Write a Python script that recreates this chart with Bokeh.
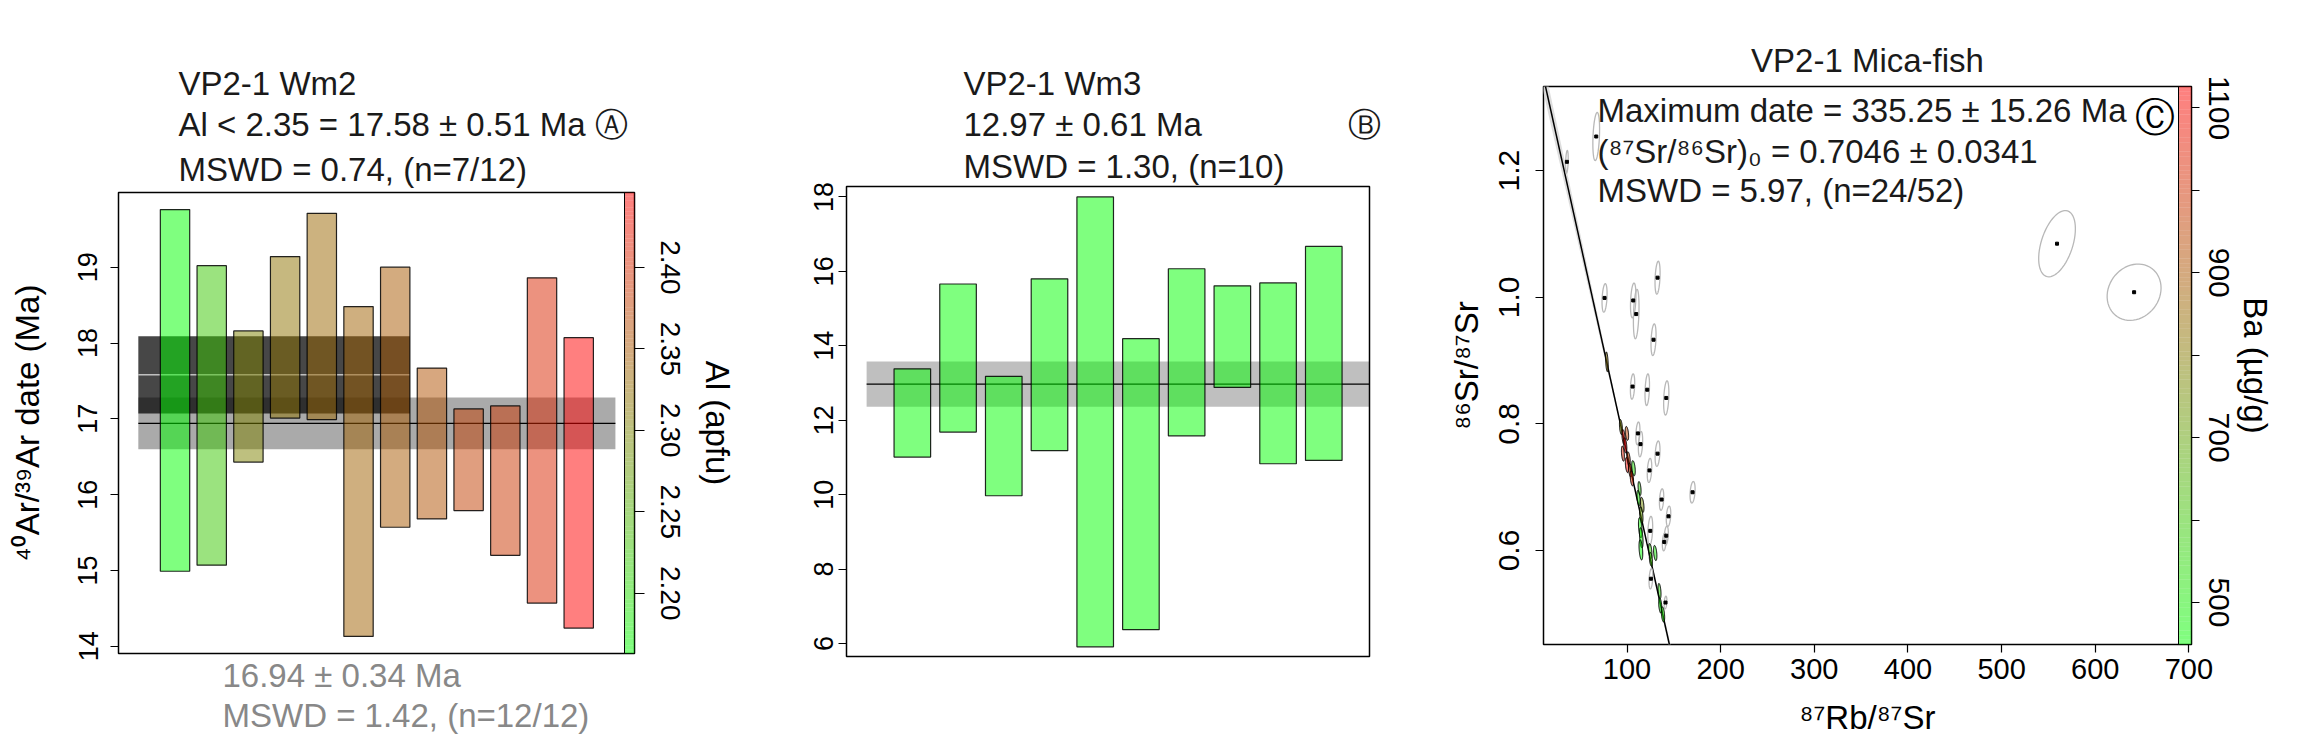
import numpy as np
from bokeh.plotting import figure
from bokeh.models import (Range1d, LinearAxis, FixedTicker, PrintfTickFormatter,
                          Label, Title, ColumnDataSource)
from bokeh.layouts import row
from bokeh.embed import file_html
from bokeh.resources import INLINE

FONT = "Liberation Sans"
TXT = "#1a1a1a"

# ---------------- Panel A : VP2-1 Wm2 ----------------
A_TITLE = ["VP2-1 Wm2", "Al < 2.35 = 17.58 ± 0.51 Ma Ⓐ", "MSWD = 0.74, (n=7/12)"]
A_FOOT = ["16.94 ± 0.34 Ma", "MSWD = 1.42, (n=12/12)"]
a_low = [14.99, 15.07, 16.43, 17.01, 16.99, 14.13, 15.57, 15.68, 15.79, 15.20, 14.57, 14.24]
a_high = [19.76, 19.02, 18.16, 19.14, 19.71, 18.48, 19.00, 17.67, 17.13, 17.17, 18.86, 18.07]
a_al = [2.163, 2.225, 2.302, 2.321, 2.333, 2.341, 2.349, 2.358, 2.378, 2.387, 2.404, 2.446]
a_mean_all, a_err_all = 16.94, 0.34
a_mean_sel, a_err_sel = 17.58, 0.51
a_nsel = 7
a_yticks = [14, 15, 16, 17, 18, 19]
a_alticks = [2.20, 2.25, 2.30, 2.35, 2.40]

# ---------------- Panel B : VP2-1 Wm3 ----------------
B_TITLE = ["VP2-1 Wm3", "12.97 ± 0.61 Ma" + "\u00a0" * 16 + "Ⓑ", "MSWD = 1.30, (n=10)"]
b_low = [11.01, 11.68, 9.97, 11.18, 5.91, 6.37, 11.58, 12.88, 10.83, 10.92]
b_high = [13.38, 15.66, 13.18, 15.80, 18.00, 14.19, 16.07, 15.61, 15.69, 16.67]
b_mean, b_err = 12.97, 0.61
b_yticks = [6, 8, 10, 12, 14, 16, 18]

# ---------------- Panel C : VP2-1 Mica-fish ----------------
C_TITLE = "VP2-1 Mica-fish"
C_STATS = ["Maximum date = 335.25 ± 15.26 Ma",
           "(⁸⁷Sr/⁸⁶Sr)₀ = 0.7046 ± 0.0341",
           "MSWD = 5.97, (n=24/52)"]
c_age, c_age_err = 335.25, 15.26
c_r0 = 0.7046
c_lambda = 1.3972e-5  # 87Rb decay constant, 1/Ma
c_xticks = [100, 200, 300, 400, 500, 600, 700]
c_yticks = [0.6, 0.8, 1.0, 1.2]
c_baticks = [500, 600, 700, 800, 900, 1000, 1100]
# selected aliquots (coloured by Ba)
sel_x = [78.5, 93.5, 96.3, 99.9, 98.1, 95.6, 101.6, 99.9, 103.4, 106.9, 105.2, 113.4,
         112.3, 116.2, 115.2, 114.1, 115.2, 114.8, 124.8, 130.1, 125.5, 134.7, 135.5, 138.4]
sel_y = [0.898, 0.795, 0.779, 0.785, 0.766, 0.753, 0.745, 0.735, 0.727, 0.730, 0.714, 0.698,
         0.683, 0.672, 0.656, 0.636, 0.620, 0.601, 0.599, 0.596, 0.586, 0.536, 0.513, 0.499]
sel_sx = [1.4, 1.6, 1.7, 1.8, 1.7, 1.6, 1.8, 1.7, 1.8, 1.9, 1.8, 1.6,
          1.7, 1.9, 1.8, 1.9, 1.9, 2.0, 1.8, 1.8, 1.7, 1.6, 1.7, 1.8]
sel_sy = [0.0157, 0.012, 0.012, 0.011, 0.012, 0.012, 0.011, 0.012, 0.011, 0.012, 0.012, 0.011,
          0.012, 0.012, 0.013, 0.016, 0.016, 0.016, 0.012, 0.012, 0.011, 0.012, 0.012, 0.012]
sel_ba = [820, 780, 1080, 950, 1126, 1050, 980, 1100, 1000, 520, 1020, 540,
          500, 760, 720, 470, 480, 449, 560, 500, 600, 530, 470, 510]
# rejected aliquots (grey)
rej_x = [67.1, 35.8, 76.0, 106.6, 109.8, 132.6, 128.3, 105.9, 121.6, 141.9, 111.6, 114.4,
         132.6, 124.0, 170.0, 136.9, 144.3, 124.8, 141.9, 139.7, 125.5, 141.1, 559.2, 641.5]
rej_y = [1.254, 1.214, 0.999, 0.995, 0.9735, 1.031, 0.933, 0.859, 0.854, 0.841, 0.785, 0.768,
         0.753, 0.7265, 0.692, 0.6805, 0.654, 0.631, 0.6234, 0.6135, 0.5554, 0.5178, 1.0847, 1.008]
rej_sx = [3.6, 1.4, 2.7, 2.9, 3.0, 2.7, 2.7, 2.3, 2.4, 2.8, 2.2, 2.3,
          2.6, 2.4, 2.7, 2.3, 2.4, 2.6, 2.2, 2.0, 2.0, 1.5, 19.6, 28.8]
rej_sy = [0.038, 0.018, 0.0225, 0.0275, 0.039, 0.026, 0.025, 0.020, 0.025, 0.027, 0.018, 0.020,
          0.020, 0.019, 0.017, 0.017, 0.016, 0.023, 0.015, 0.014, 0.016, 0.010, 0.0523, 0.0445]
rej_rho = [0.3] * 22 + [0.45, 0.15]
sel_rho = [-0.4] * 24


def ramp(t):
    t = min(max(t, 0.0), 1.0)
    return "#%02x%02x00" % (int(round(255 * t)), int(round(255 * (1 - t))))


def conv(box, xr, yr):
    left, right, top, bottom = box
    def f(px, py):
        return (xr[0] + (px - left) / (right - left) * (xr[1] - xr[0]),
                yr[1] - (py - top) / (bottom - top) * (yr[1] - yr[0]))
    return f


def style_axis(ax, size, tick_out=8, standoff=4, label_standoff=6):
    ax.major_label_text_font = FONT
    ax.major_label_text_font_size = size
    ax.major_label_text_color = "black"
    ax.axis_label_text_font = FONT
    ax.axis_label_text_font_size = "33px"
    ax.axis_label_text_font_style = "normal"
    ax.axis_label_text_color = "black"
    ax.axis_line_color = None
    ax.major_tick_line_color = "black"
    ax.major_tick_line_width = 1.2
    ax.major_tick_out = tick_out
    ax.major_tick_in = 0
    ax.minor_tick_line_color = None
    ax.major_label_standoff = standoff
    ax.axis_label_standoff = label_standoff


def base_fig(w, h, xr, yr, bl, br, bt, bb, xaxis=True):
    p = figure(width=w, height=h, x_range=Range1d(*xr), y_range=Range1d(*yr),
               output_backend="svg", toolbar_location=None, frame_align=False,
               x_axis_location="below" if xaxis else None,
               min_border_left=bl, min_border_right=br, min_border_top=bt, min_border_bottom=bb)
    p.xgrid.grid_line_color = None
    p.ygrid.grid_line_color = None
    p.outline_line_color = "black"
    p.outline_line_width = 1.5
    p.background_fill_color = "white"
    p.border_fill_color = "white"
    return p


def add_titles(p, lines, standoffs, offset=0, align="left", place="above", color=TXT):
    # lines are given nearest-to-frame first
    for txt, s in zip(lines, standoffs):
        p.add_layout(Title(text=txt, align=align, offset=offset, standoff=s,
                           text_font=FONT, text_font_size="33px", text_font_style="normal",
                           text_color=color), place)


def add_text(p, x, y, text, size="33px", align="left", color=TXT, font=FONT):
    p.add_layout(Label(x=x, y=y, text=text, text_font=font, text_font_size=size,
                       text_align=align, text_baseline="middle", text_color=color))


# ======================= Panel A =======================
nA = len(a_low)
xA = (-0.54, nA + 1.52)
yA = (13.905, 19.985)
pA = base_fig(760, 738, xA, yA, 118, 126, 192, 85, xaxis=False)
al_min, al_max = min(a_al), max(a_al)
pA.extra_y_ranges = {"al": Range1d(al_min, al_max)}

pA.quad(left=[0], right=[nA + 1], bottom=[a_mean_all - a_err_all], top=[a_mean_all + a_err_all],
        fill_color="black", fill_alpha=0.333, line_color=None)
pA.quad(left=[0], right=[a_nsel + 0.4], bottom=[a_mean_sel - a_err_sel], top=[a_mean_sel + a_err_sel],
        fill_color="black", fill_alpha=0.72, line_color=None)
pA.line([0, a_nsel + 0.4], [a_mean_sel, a_mean_sel], line_color="white", line_width=1)
pA.line([0, nA + 1], [a_mean_all, a_mean_all], line_color="black", line_width=1.2)

idxA = np.arange(1, nA + 1)
tA = [(v - al_min) / (al_max - al_min) for v in a_al]
srcA = ColumnDataSource(dict(l=idxA - 0.4, r=idxA + 0.4, b=a_low, t=a_high,
                             c=[ramp(t) for t in tA]))
pA.quad(left="l", right="r", bottom="b", top="t", fill_color="c", fill_alpha=0.5,
        line_color="black", line_width=1.2, line_alpha=0.85, source=srcA)

nb = 120
edges = np.linspace(al_min, al_max, nb + 1)
cbx0 = xA[0] + (624 - 118) / (634 - 118) * (xA[1] - xA[0])
pA.quad(left=[cbx0] * nb, right=[xA[1]] * nb, bottom=edges[:-1], top=edges[1:],
        fill_color=[ramp((i + 0.5) / nb) for i in range(nb)], fill_alpha=0.5,
        line_color=None, y_range_name="al")
pA.line([cbx0, cbx0], [al_min, al_max], y_range_name="al", line_color="black", line_width=1)

pA.yaxis.ticker = FixedTicker(ticks=a_yticks)
pA.yaxis.axis_label = "⁴⁰Ar/³⁹Ar date (Ma)"
pA.yaxis.major_label_orientation = "vertical"
style_axis(pA.yaxis[0], "27px", standoff=13, label_standoff=30)
axA = LinearAxis(y_range_name="al", ticker=FixedTicker(ticks=a_alticks),
                 formatter=PrintfTickFormatter(format="%.2f"), axis_label="Al (apfu)",
                 major_label_orientation="vertical")
style_axis(axA, "28px", tick_out=10, standoff=16, label_standoff=16)
pA.add_layout(axA, "right")

add_titles(pA, A_TITLE[::-1], [10, 2, 1], offset=60)
add_titles(pA, A_FOOT, [2, 1], offset=104, place="below", color="#888888")

# ======================= Panel B =======================
nB = len(b_low)
xB = (-0.44, nB + 1.0)
yB = (5.65, 18.28)
pB = base_fig(680, 738, xB, yB, 86, 71, 186, 82, xaxis=False)
pB.quad(left=[0], right=[nB + 1], bottom=[b_mean - b_err], top=[b_mean + b_err],
        fill_color="black", fill_alpha=0.25, line_color=None)
pB.line([0, nB + 1], [b_mean, b_mean], line_color="black", line_width=1.2)
idxB = np.arange(1, nB + 1)
srcB = ColumnDataSource(dict(l=idxB - 0.4, r=idxB + 0.4, b=b_low, t=b_high))
pB.quad(left="l", right="r", bottom="b", top="t", fill_color="#00ff00", fill_alpha=0.5,
        line_color="black", line_width=1.2, line_alpha=0.85, source=srcB)
pB.yaxis.ticker = FixedTicker(ticks=b_yticks)
pB.yaxis.major_label_orientation = "vertical"
style_axis(pB.yaxis[0], "27px", standoff=5)
add_titles(pB, B_TITLE[::-1], [4, 2, 1], offset=117)

# ======================= Panel C =======================
xC = (10.8, 702.8)
yC = (0.4515, 1.333)
pC = base_fig(871, 738, xC, yC, 103, 120, 86, 91)
cC = conv((1543, 2191, 86, 647), xC, yC)
ba_min, ba_max = min(sel_ba), max(sel_ba)
pC.extra_y_ranges = {"ba": Range1d(ba_min, ba_max)}

D = np.exp(c_lambda * c_age) - 1.0
slope = -D / c_r0
slope_err = c_lambda * np.exp(c_lambda * c_age) * c_age_err / c_r0
xc = float(np.mean(sel_x))
xl = np.linspace(0, 170, 200)
yl = 1.0 / c_r0 + slope * xl
w = np.abs(xl - xc) * slope_err * 0.8
pC.varea(x=xl, y1=yl - w, y2=yl + w, fill_color="#d4d4d4", fill_alpha=0.8)
pC.line(xl, yl, line_color="black", line_width=1.5)

tt = np.linspace(0, 2 * np.pi, 60)


def ell(x0, y0, a, b, r):
    xs = x0 + a * np.cos(tt)
    ys = y0 + b * (r * np.cos(tt) + np.sqrt(1 - r * r) * np.sin(tt))
    return list(xs), list(ys)


rx, ry = zip(*[ell(*v) for v in zip(rej_x, rej_y, rej_sx, rej_sy, rej_rho)])
pC.patches(list(rx), list(ry), fill_color=None, line_color="#b8b8b8", line_width=1.3)
pC.scatter(rej_x, rej_y, marker="square", size=3, color="black")

sx_, sy_ = zip(*[ell(*v) for v in zip(sel_x, sel_y, sel_sx, sel_sy, sel_rho)])
selc = [ramp((b - ba_min) / (ba_max - ba_min)) for b in sel_ba]
pC.patches(list(sx_), list(sy_), fill_color=selc, fill_alpha=0.5, line_color="black",
           line_width=1)

cbx0C = xC[0] + (2178 - 1543) / (2191 - 1543) * (xC[1] - xC[0])
edgesC = np.linspace(ba_min, ba_max, nb + 1)
pC.quad(left=[cbx0C] * nb, right=[xC[1]] * nb, bottom=edgesC[:-1], top=edgesC[1:],
        fill_color=[ramp((i + 0.5) / nb) for i in range(nb)], fill_alpha=0.5,
        line_color=None, y_range_name="ba")
pC.line([cbx0C, cbx0C], [ba_min, ba_max], y_range_name="ba", line_color="black", line_width=1)

pC.xaxis.ticker = FixedTicker(ticks=c_xticks)
pC.xaxis.axis_label = "⁸⁷Rb/⁸⁷Sr"
style_axis(pC.xaxis[0], "29px", tick_out=8, standoff=6, label_standoff=17)
pC.yaxis.ticker = FixedTicker(ticks=c_yticks)
pC.yaxis.formatter = PrintfTickFormatter(format="%.1f")
pC.yaxis.axis_label = "⁸⁶Sr/⁸⁷Sr"
pC.yaxis.major_label_orientation = "vertical"
style_axis(pC.yaxis[0], "30px", standoff=16, label_standoff=12)
axC = LinearAxis(y_range_name="ba", ticker=FixedTicker(ticks=c_baticks),
                 major_label_overrides={600: "", 800: "", 1000: ""},
                 axis_label="Ba (µg/g)", major_label_orientation="vertical")
style_axis(axC, "30px", tick_out=8, standoff=9, label_standoff=5)
pC.add_layout(axC, "right")

add_titles(pC, [C_TITLE], [16], align="center")
for txt, py in zip(C_STATS, [110, 151, 191]):
    x, y = cC(1597, py)
    add_text(pC, x, y, txt)
x, y = cC(2154, 117)
add_text(pC, x, y, "Ⓒ", size="40px", align="center", font="DejaVu Sans", color="black")

layout = row(pA, pB, pC)
open("out.html", "w").write(file_html(layout, INLINE))
